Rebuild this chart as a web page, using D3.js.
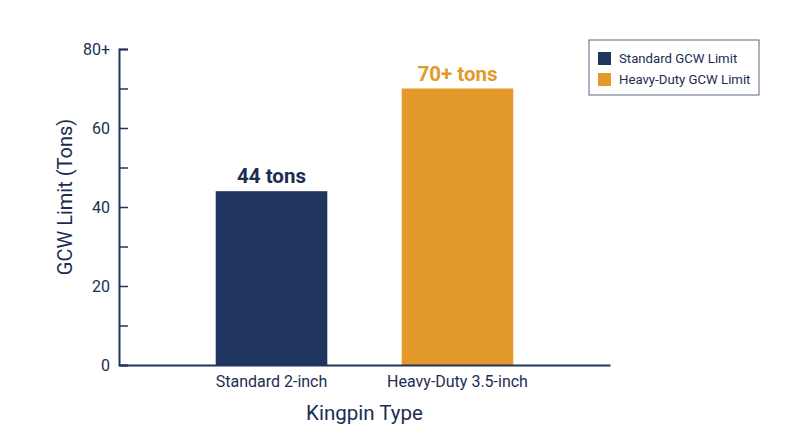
<!DOCTYPE html>
<html>
<head>
<meta charset="utf-8">
<script src="https://cdn.jsdelivr.net/npm/d3@7"></script>
<style>
  body { margin: 0; background: #fff; }
  svg { font-family: Roboto, "Noto Sans", sans-serif; }
</style>
</head>
<body>
<svg id="chart" width="800" height="447"></svg>
<script>
// chart data
const categories = ['Standard 2-inch', 'Heavy-Duty 3.5-inch'];
const values = [44, 70];
const valueLabels = ['44 tons', '70+ tons'];
const seriesNames = ['Standard GCW Limit', 'Heavy-Duty GCW Limit'];
const majorTicks = [0, 20, 40, 60, 80];
const minorTicks = [10, 30, 50, 70];
const tickLabels = ['0', '20', '40', '60', '80+'];

const navy = '#1f355e';
const orange = '#e39a2a';
const colors = [navy, orange];
const textColor = '#1c2d52';

const svg = d3.select('#chart');
const margin = {left: 119, right: 190, top: 49, bottom: 82};
const W = 800, H = 447;

const x = d3.scaleBand()
  .domain(categories)
  .range([margin.left, W - margin.right])
  .paddingInner(0.4)
  .paddingOuter(0.52);

const y = d3.scaleLinear()
  .domain([0, 80])
  .range([H - margin.bottom, margin.top]);

// bars
svg.append('g').selectAll('rect')
  .data(values)
  .join('rect')
  .attr('x', (d, i) => x(categories[i]))
  .attr('y', d => y(d))
  .attr('width', x.bandwidth())
  .attr('height', d => y(0) - y(d))
  .attr('fill', (d, i) => colors[i]);

// value labels above bars
svg.append('g').selectAll('text')
  .data(values)
  .join('text')
  .attr('x', (d, i) => x(categories[i]) + x.bandwidth() / 2)
  .attr('y', d => y(d) - 8)
  .attr('text-anchor', 'middle')
  .attr('font-size', '20.5px')
  .attr('font-weight', 'bold')
  .attr('fill', (d, i) => i === 0 ? textColor : orange)
  .text((d, i) => valueLabels[i]);

// y axis: major ticks labelled, minor ticks bare, ticks pointing inward
const yAxis = svg.append('g')
  .attr('transform', `translate(${margin.left},0)`)
  .call(d3.axisRight(y)
    .tickValues(majorTicks.concat(minorTicks))
    .tickSize(9)
    .tickFormat(d => {
      const i = majorTicks.indexOf(d);
      return i < 0 ? '' : tickLabels[i];
    }));
yAxis.select('.domain').attr('stroke', navy).attr('stroke-width', 2);
yAxis.selectAll('.tick line').attr('stroke', navy).attr('stroke-width', 1.5);
yAxis.selectAll('.tick text')
  .attr('x', -9)
  .attr('text-anchor', 'end')
  .attr('font-size', '16px')
  .attr('font-family', 'Roboto, sans-serif')
  .attr('fill', textColor);

// x axis
const xAxis = svg.append('g')
  .attr('transform', `translate(0,${y(0)})`)
  .call(d3.axisBottom(x).tickSize(0).tickSizeOuter(0).tickPadding(11));
xAxis.select('.domain').attr('stroke', navy).attr('stroke-width', 2);
xAxis.selectAll('.tick text')
  .attr('font-size', '16px')
  .attr('font-family', 'Roboto, sans-serif')
  .attr('fill', textColor);

// axis titles
svg.append('text')
  .attr('x', (margin.left + W - margin.right) / 2)
  .attr('y', 420)
  .attr('text-anchor', 'middle')
  .attr('font-size', '20.5px')
  .attr('fill', textColor)
  .text('Kingpin Type');

svg.append('text')
  .attr('transform', 'translate(72,197) rotate(-90)')
  .attr('text-anchor', 'middle')
  .attr('font-size', '20px')
  .attr('fill', textColor)
  .text('GCW Limit (Tons)');

// legend
const legend = svg.append('g').attr('transform', 'translate(589,40)');
legend.append('rect')
  .attr('width', 170).attr('height', 55)
  .attr('fill', '#fff')
  .attr('stroke', '#5b6680')
  .attr('stroke-width', 1);
const item = legend.selectAll('g.item')
  .data(seriesNames)
  .join('g')
  .attr('class', 'item')
  .attr('transform', (d, i) => `translate(9,${12 + i * 21})`);
item.append('rect')
  .attr('width', 13).attr('height', 13)
  .attr('fill', (d, i) => colors[i]);
item.append('text')
  .attr('x', 21).attr('y', 11)
  .attr('font-size', '13.2px')
  .attr('fill', textColor)
  .text(d => d);
</script>
</body>
</html>
